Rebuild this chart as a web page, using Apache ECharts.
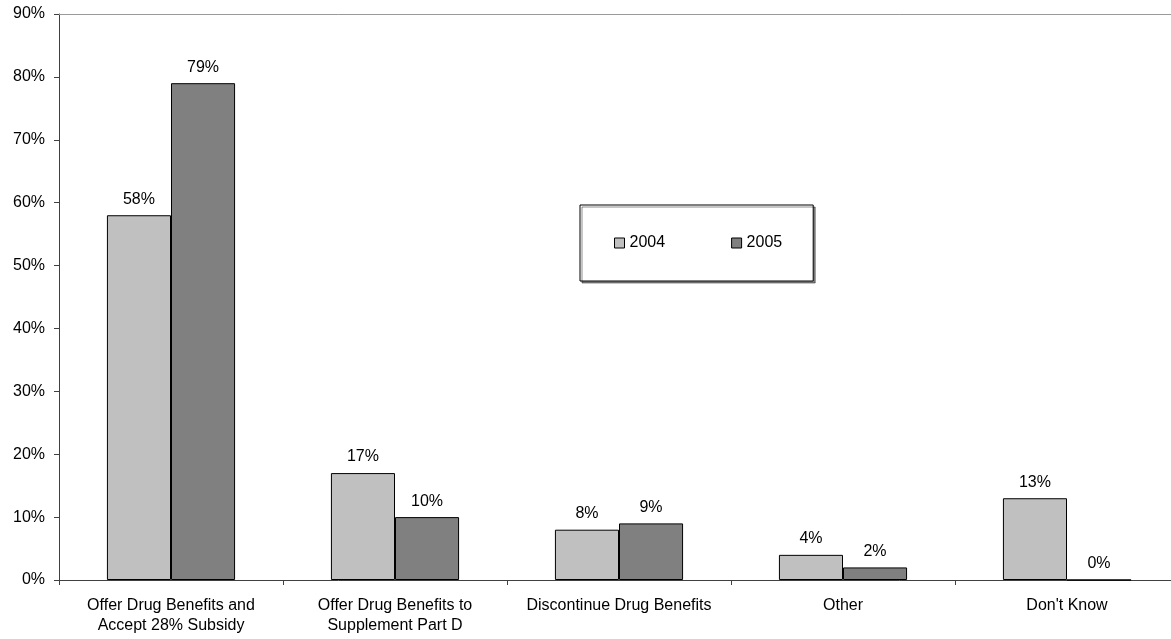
<!DOCTYPE html>
<html>
<head>
<meta charset="utf-8">
<script src="https://cdn.jsdelivr.net/npm/echarts@6/dist/echarts.min.js"></script>
<style>
  html, body { margin: 0; padding: 0; background: #fff; overflow: hidden; }
  /* the drawing runs a few pixels past the right edge of the window */
  #chart { width: 1179px; height: 639px; }
</style>
</head>
<body>
<div id="chart"></div>
<script>
// Employer plans for retiree drug coverage, share of responses by year
const categories = [
  'Offer Drug Benefits and\nAccept 28% Subsidy',
  'Offer Drug Benefits to\nSupplement Part D',
  'Discontinue Drug Benefits',
  'Other',
  "Don't Know"
];
const values2004 = [58, 17, 8, 4, 13];
const values2005 = [79, 10, 9, 2, 0];
const seriesNames = ['2004', '2005'];

const FONT = '"Liberation Sans", Arial, sans-serif';
const FS = 16;

const chart = echarts.init(document.getElementById('chart'));

function barSeries(name, data, color) {
  return {
    name: name,
    type: 'bar',
    data: data,
    barWidth: '28.6%',
    barGap: '0%',
    itemStyle: { color: color, borderColor: '#000', borderWidth: 1 },
    label: {
      show: true,
      position: 'top',
      distance: 8,
      formatter: '{c}%',
      color: '#000',
      fontFamily: FONT,
      fontSize: FS
    }
  };
}

chart.setOption({
  animation: false,
  backgroundColor: '#fff',
  textStyle: { fontFamily: FONT, fontSize: FS, color: '#000' },
  grid: { left: 59, right: 0, top: 14, bottom: 59, containLabel: false },
  legend: {
    data: seriesNames,
    left: 580,
    top: 205,
    orient: 'horizontal',
    icon: 'rect',
    itemWidth: 10,
    itemHeight: 10,
    itemGap: 66,
    padding: [30, 31, 30, 34],
    backgroundColor: '#fff',
    borderColor: '#000',
    borderWidth: 1,
    shadowColor: 'rgba(0,0,0,0.45)',
    shadowOffsetX: 2,
    shadowOffsetY: 2,
    shadowBlur: 0,
    itemStyle: { borderColor: '#000', borderWidth: 1 },
    textStyle: { fontFamily: FONT, fontSize: 16, color: '#000' }
  },
  xAxis: [
    {
      type: 'category',
      data: categories,
      axisLine: { lineStyle: { color: '#404040', width: 1 } },
      axisTick: { show: true, alignWithLabel: false, length: 5, lineStyle: { color: '#404040' } },
      axisLabel: { color: '#000', fontFamily: FONT, fontSize: FS, margin: 16, lineHeight: 20, interval: 0 },
      splitLine: { show: false }
    },
    {
      type: 'category',
      position: 'top',
      data: categories,
      axisLine: { lineStyle: { color: '#9a9a9a', width: 1 } },
      axisTick: { show: false },
      axisLabel: { show: false }
    }
  ],
  yAxis: {
    type: 'value',
    min: 0,
    max: 90,
    interval: 10,
    axisLine: { show: true, lineStyle: { color: '#404040', width: 1 } },
    axisTick: { show: true, length: 5, lineStyle: { color: '#404040' } },
    axisLabel: { formatter: '{value}%', color: '#000', fontFamily: FONT, fontSize: FS, margin: 14 },
    splitLine: { show: false }
  },
  series: [
    barSeries(seriesNames[0], values2004, '#c0c0c0'),
    barSeries(seriesNames[1], values2005, '#808080')
  ]
});
</script>
</body>
</html>
